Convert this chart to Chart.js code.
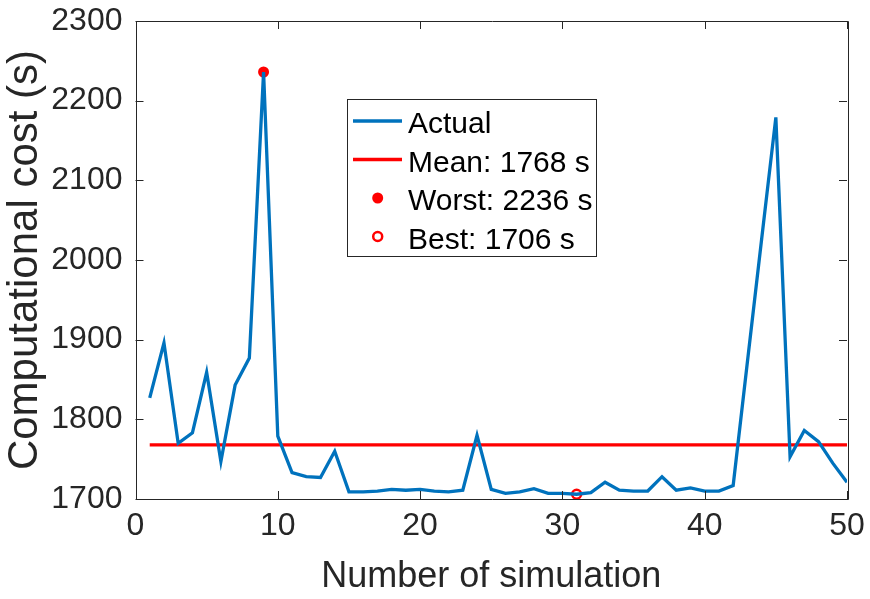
<!DOCTYPE html>
<html>
<head>
<meta charset="utf-8">
<script src="https://cdn.jsdelivr.net/npm/chart.js@4.4.1/dist/chart.umd.min.js"></script>
<style>
  html, body { margin: 0; padding: 0; background: #fff; }
  #wrap { width: 870px; height: 599px; }
</style>
</head>
<body>
<div id="wrap"><canvas id="cost-chart" width="870" height="599"></canvas></div>
<script>
// simulation number and measured computational cost (s)
const simIndex = [1, 2, 3, 4, 5, 6, 7, 8, 9, 10,
    11, 12, 13, 14, 15, 16, 17, 18, 19, 20,
    21, 22, 23, 24, 25, 26, 27, 28, 29, 30,
    31, 32, 33, 34, 35, 36, 37, 38, 39, 40,
    41, 42, 43, 44, 45, 46, 47, 48, 49, 50];
const costs = [1827, 1896, 1770, 1783, 1859, 1747, 1843, 1877, 2236, 1779,
    1733, 1728, 1727, 1760, 1709, 1709, 1710, 1712, 1711, 1712,
    1710, 1709, 1711, 1780, 1712, 1707, 1709, 1713, 1707, 1707,
    1706, 1708, 1721, 1711, 1710, 1710, 1728, 1711, 1714, 1710,
    1710, 1717, 1872, 2026, 2179, 1753, 1786, 1772, 1745, 1721];

const meanCost = 1768;
const worstSim = 9, worstCost = 2236;
const bestSim = 31, bestCost = 1706;

const xTicks = [0, 10, 20, 30, 40, 50];
const yTicks = [1700, 1800, 1900, 2000, 2100, 2200, 2300];

const seriesLabels = ['Actual', 'Mean: ' + meanCost + ' s', 'Worst: ' + worstCost + ' s', 'Best: ' + bestCost + ' s'];

const BLUE = '#0072BD';
const RED = '#FF0000';
const AXIS = '#262626';
const FONT = '"Liberation Sans", Arial, Helvetica, sans-serif';

// box with inward ticks on all four sides, like matlab "box on"
const axesBox = {
    id: 'axesBox',
    afterDatasetsDraw(chart) {
        const ctx = chart.ctx;
        const a = chart.chartArea;
        const xs = chart.scales.x, ys = chart.scales.y;
        const len = 8;
        ctx.save();
        ctx.strokeStyle = AXIS;
        ctx.lineWidth = 1;
        ctx.beginPath();
        ctx.rect(Math.round(a.left) + 0.5, Math.round(a.top) + 0.5,
            Math.round(a.right - a.left), Math.round(a.bottom - a.top));
        xTicks.forEach(v => {
            const px = Math.round(xs.getPixelForValue(v)) + 0.5;
            ctx.moveTo(px, a.bottom); ctx.lineTo(px, a.bottom - len);
            ctx.moveTo(px, a.top); ctx.lineTo(px, a.top + len);
        });
        yTicks.forEach(v => {
            const py = Math.round(ys.getPixelForValue(v)) + 0.5;
            ctx.moveTo(a.left, py); ctx.lineTo(a.left + len, py);
            ctx.moveTo(a.right, py); ctx.lineTo(a.right - len, py);
        });
        ctx.stroke();
        ctx.restore();
    }
};

// legend drawn by hand to get the matlab look
const boxLegend = {
    id: 'boxLegend',
    afterDraw(chart) {
        const ctx = chart.ctx;
        const left = 347.5, top = 99.5, w = 249, h = 157;
        const rows = [133, 171.5, 210, 248.5];
        ctx.save();
        ctx.fillStyle = '#fff';
        ctx.fillRect(left, top, w, h);
        ctx.strokeStyle = AXIS;
        ctx.lineWidth = 1;
        ctx.strokeRect(left, top, w, h);
        ctx.font = '30px ' + FONT;
        ctx.textBaseline = 'alphabetic';
        chart.data.datasets.forEach((ds, i) => {
            const base = rows[i];
            const mid = base - 12;
            if (ds.showLine !== false) {
                ctx.strokeStyle = ds.borderColor;
                ctx.lineWidth = ds.borderWidth;
                ctx.beginPath();
                ctx.moveTo(353, mid); ctx.lineTo(402, mid);
                ctx.stroke();
            } else {
                ctx.beginPath();
                ctx.arc(377.7, mid, ds.pointRadius, 0, Math.PI * 2);
                if (ds.pointBackgroundColor !== '#fff') {
                    ctx.fillStyle = ds.pointBackgroundColor;
                    ctx.fill();
                } else {
                    ctx.strokeStyle = ds.pointBorderColor;
                    ctx.lineWidth = ds.pointBorderWidth;
                    ctx.stroke();
                }
            }
            ctx.fillStyle = '#000';
            ctx.fillText(ds.label, 408, base);
        });
        ctx.restore();
    }
};

const ctx = document.getElementById('cost-chart').getContext('2d');
new Chart(ctx, {
    type: 'line',
    data: {
        datasets: [{
            label: seriesLabels[0],
            data: simIndex.map((s, i) => ({ x: s, y: costs[i] })),
            borderColor: BLUE,
            borderWidth: 3.3,
            pointRadius: 0,
            tension: 0
        }, {
            label: seriesLabels[1],
            data: [{ x: simIndex[0], y: meanCost }, { x: simIndex[simIndex.length - 1], y: meanCost }],
            borderColor: RED,
            borderWidth: 3.3,
            pointRadius: 0
        }, {
            label: seriesLabels[2],
            data: [{ x: worstSim, y: worstCost }],
            showLine: false,
            pointRadius: 5.5,
            pointBackgroundColor: RED,
            pointBorderColor: RED,
            pointBorderWidth: 0,
            clip: false
        }, {
            label: seriesLabels[3],
            data: [{ x: bestSim, y: bestCost }],
            showLine: false,
            pointRadius: 4.5,
            pointBackgroundColor: '#fff',
            pointBorderColor: RED,
            pointBorderWidth: 2.5,
            clip: false
        }]
    },
    options: {
        responsive: false,
        animation: false,
        layout: { padding: { top: 21, right: 23, left: 0, bottom: 0 } },
        scales: {
            x: {
                type: 'linear',
                min: 0,
                max: 50,
                afterBuildTicks: scale => { scale.ticks = xTicks.map(v => ({ value: v })); },
                afterFit: scale => {
                    scale.height = 100;
                    scale.paddingLeft = 0;
                    scale.paddingRight = 0;
                },
                ticks: {
                    color: AXIS,
                    font: { family: FONT, size: 32 },
                    padding: 8,
                    maxRotation: 0,
                    callback: v => String(v)
                },
                grid: { display: false, drawTicks: false },
                border: { display: false },
                title: {
                    display: true,
                    text: 'Number of simulation',
                    color: AXIS,
                    font: { family: FONT, size: 36 },
                    padding: { top: 0, bottom: 0 }
                }
            },
            y: {
                min: 1700,
                max: 2300,
                afterBuildTicks: scale => { scale.ticks = yTicks.map(v => ({ value: v })); },
                afterFit: scale => {
                    scale.width = 135.5;
                    scale.paddingTop = 0;
                    scale.paddingBottom = 0;
                },
                ticks: {
                    color: AXIS,
                    font: { family: FONT, size: 32 },
                    padding: 13,
                    callback: v => String(v)
                },
                grid: { display: false, drawTicks: false },
                border: { display: false },
                title: {
                    display: true,
                    text: 'Computational cost (s)',
                    color: AXIS,
                    font: { family: FONT, size: 42 },
                    padding: { top: 0, bottom: 0 }
                }
            }
        },
        plugins: {
            legend: { display: false },
            tooltip: { enabled: false }
        }
    },
    plugins: [axesBox, boxLegend]
});
</script>
</body>
</html>
